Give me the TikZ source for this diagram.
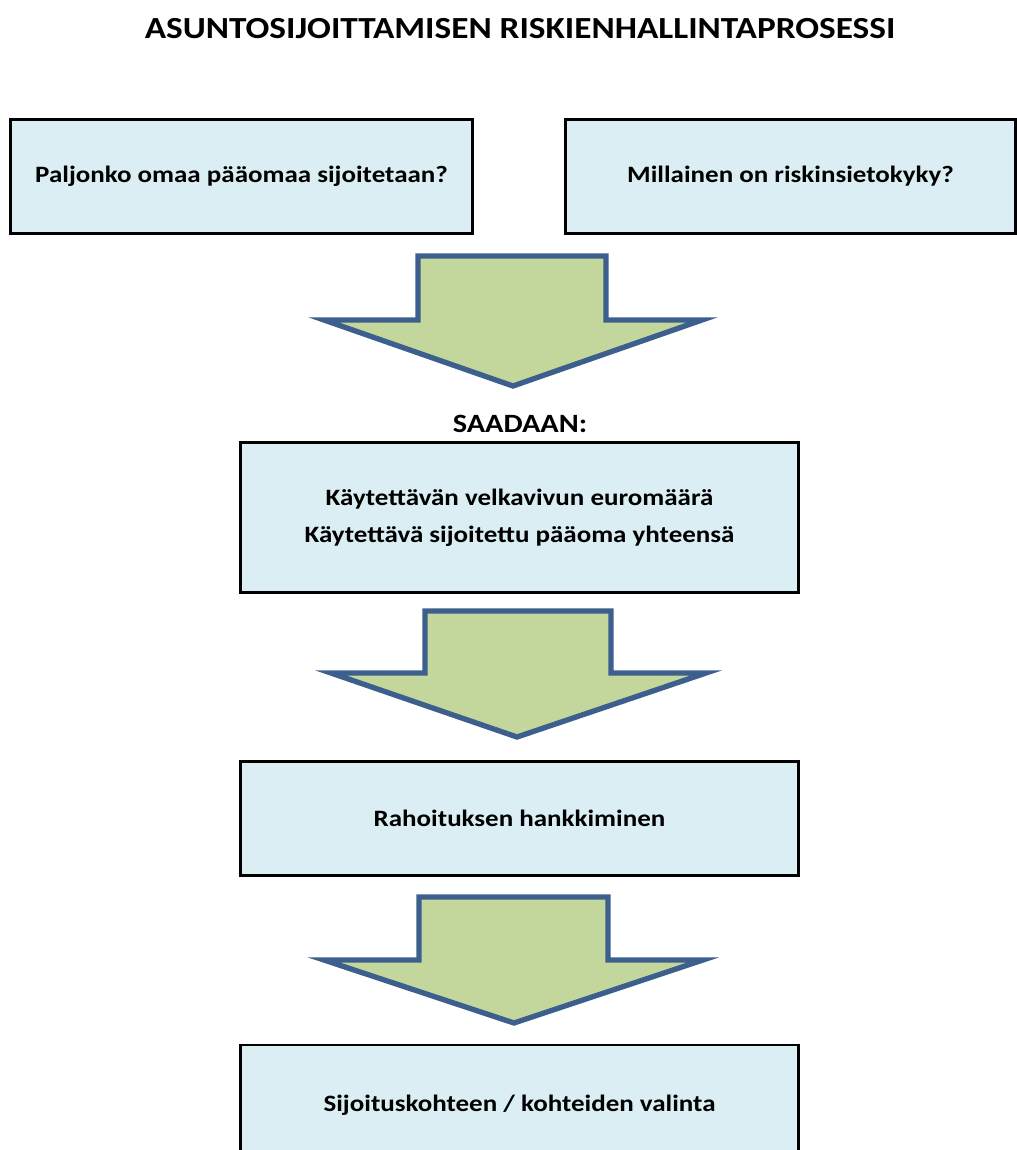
\documentclass[tikz,border=0pt]{standalone}
\usepackage{fontspec}
\setmainfont{Carlito}[FakeStretch=1.15]
\definecolor{boxfill}{HTML}{DAEEF3}
\definecolor{arrowfill}{HTML}{C3D69B}
\definecolor{arrowline}{HTML}{3C5F8D}
\begin{document}
\begin{tikzpicture}[
  x=0.75pt, y=-0.75pt,
  stepbox/.style={draw=black, line width=2.2pt, fill=boxfill, font=\bfseries\fontsize{17.6}{27.75}\selectfont, align=center, inner sep=0pt},
  blockarrow/.style={draw=arrowline, line width=4pt, fill=arrowfill, line join=miter}
]
  \useasboundingbox (0,0) rectangle (1017,1150);
  % title
  \node[font=\bfseries\fontsize{23}{28}\selectfont] (title) at (520,29) {ASUNTOSIJOITTAMISEN RISKIENHALLINTAPROSESSI};

  % top row: the two questions
  \node[stepbox, minimum width=347pt, minimum height=85pt] (q1) at (241.5,176.5) {Paljonko omaa pääomaa sijoitetaan?};
  \node[stepbox, minimum width=337pt, minimum height=85pt] (q2) at (790.5,176.5) {Millainen on riskinsietokyky?};

  % arrow 1
  \draw[blockarrow] (418,256) -- (606,256) -- (606,320) -- (702,320) -- (513,386) -- (324,320) -- (418,320) -- cycle;

  \node[font=\bfseries\fontsize{19.8}{22}\selectfont] (saadaan) at (520,424) {SAADAAN:};
  \node[stepbox, minimum width=419pt, minimum height=112pt] (result) at (519.5,517.5) {Käytettävän velkavivun euromäärä\\Käytettävä sijoitettu pääoma yhteensä};

  % arrow 2
  \draw[blockarrow] (425,611) -- (611,611) -- (611,673) -- (706,673) -- (517,737) -- (331,673) -- (425,673) -- cycle;

  \node[stepbox, minimum width=419pt, minimum height=85pt] (rahoitus) at (519.5,818.5) {Rahoituksen hankkiminen};

  % arrow 3
  \draw[blockarrow] (419,897) -- (608,897) -- (608,960) -- (703,960) -- (514,1023) -- (324,960) -- (419,960) -- cycle;

  \node[stepbox, minimum width=419pt, minimum height=90pt] (valinta) at (519.5,1105) {Sijoituskohteen / kohteiden valinta};
\end{tikzpicture}
\end{document}
